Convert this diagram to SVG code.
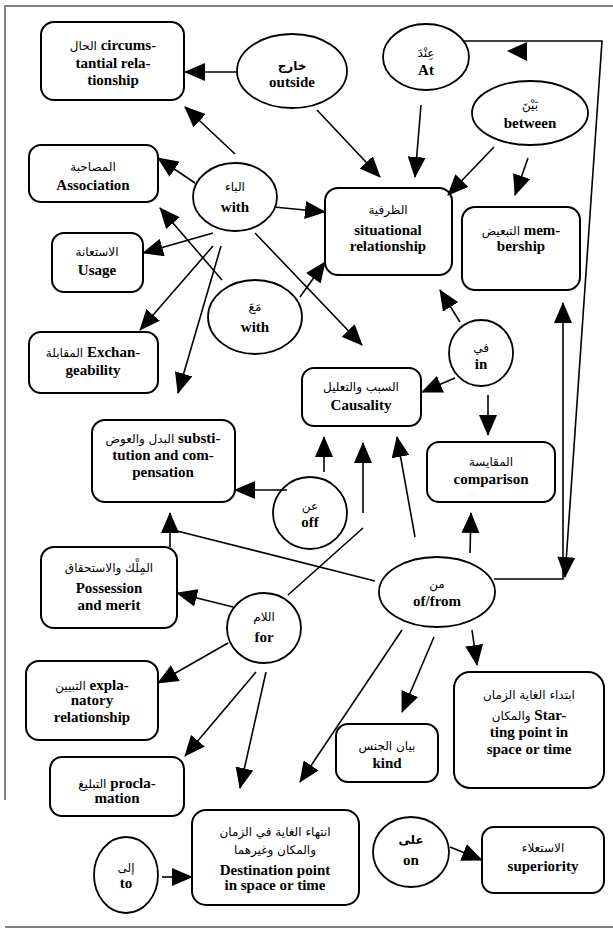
<svg xmlns="http://www.w3.org/2000/svg" width="613" height="929" viewBox="0 0 613 929">
<style>
.box{fill:#fff;stroke:#000;stroke-width:2}
.ell{fill:#fff;stroke:#000;stroke-width:1.8}
.frame{stroke:#808080;stroke-width:2;fill:none}
.c{stroke:#000;stroke-width:1.6;fill:none}
.a{marker-end:url(#ah)}
text{font-family:"Liberation Serif","DejaVu Sans",serif;font-weight:bold;font-size:15px;text-anchor:middle;fill:#000}
.ar{font-family:"DejaVu Sans","Noto Sans",sans-serif;font-weight:normal;font-size:12px}
.arb{font-family:"DejaVu Sans","Noto Sans",sans-serif;font-weight:bold;font-size:12px}
</style>
<defs>
<marker id="ah" markerUnits="userSpaceOnUse" markerWidth="21" markerHeight="18" refX="20" refY="9" orient="auto" viewBox="0 0 21 18">
<path d="M0,0 L21,9 L0,18 z" fill="#000"/>
</marker>
</defs>
<rect width="613" height="929" fill="#fff"/>
<g id="frame">
<path class="frame" d="M5,800 L5,6 L613,6"/>
<path class="frame" d="M5,927 L613,927"/>
</g>
<g id="n-circumstantial"><rect class="box" x="41" y="22" width="143" height="78" rx="13"/>
<text x="113" y="50"><tspan class="ar">الحال</tspan> circums-</text><text x="113" y="68">tantial rela-</text><text x="113" y="85">tionship</text></g>
<g id="n-outside"><ellipse class="ell" cx="292" cy="71" rx="55" ry="37"/>
<text x="292" y="70" class="arb">خارج</text><text x="292" y="87">outside</text></g>
<g id="n-at"><ellipse class="ell" cx="426" cy="57" rx="43" ry="33"/>
<text x="426" y="57" class="ar">عِنْدَ</text><text x="426" y="75">At</text></g>
<g id="n-between"><ellipse class="ell" cx="530" cy="113" rx="58" ry="32"/>
<text x="530" y="109" class="ar">بَيْنَ</text><text x="530" y="128">between</text></g>
<g id="n-situational"><rect class="box" x="325" y="188" width="127" height="87" rx="13"/>
<text x="388" y="214" class="ar">الظرفية</text><text x="388" y="235">situational</text><text x="388" y="251">relationship</text></g>
<g id="n-membership"><rect class="box" x="462" y="207" width="118" height="83" rx="13"/>
<text x="521" y="235"><tspan class="ar">التبعيض</tspan>  mem-</text><text x="521" y="251">bership</text></g>
<g id="n-with-ba"><ellipse class="ell" cx="235" cy="197" rx="42" ry="34"/>
<text x="235" y="191" class="ar">الباء</text><text x="235" y="212">with</text></g>
<g id="n-association"><rect class="box" x="29" y="145" width="129" height="57" rx="12"/>
<text x="93" y="171" class="ar">المصاحبة</text><text x="93" y="190">Association</text></g>
<g id="n-usage"><rect class="box" x="52" y="233" width="91" height="59" rx="12"/>
<text x="97" y="256" class="ar">الاستعانة</text><text x="97" y="275">Usage</text></g>
<g id="n-with-maa"><ellipse class="ell" cx="255" cy="317" rx="47" ry="37"/>
<text x="255" y="311" class="ar">مَعَ</text><text x="255" y="332">with</text></g>
<g id="n-exchangeability"><rect class="box" x="29" y="332" width="129" height="61" rx="12"/>
<text x="93" y="357"><tspan class="ar">المقابلة</tspan> Exchan-</text><text x="93" y="375">geability</text></g>
<g id="n-in"><ellipse class="ell" cx="481" cy="353" rx="32" ry="33"/>
<text x="481" y="352" class="ar">في</text><text x="481" y="369">in</text></g>
<g id="n-causality"><rect class="box" x="302" y="368" width="119" height="58" rx="12"/>
<text x="361" y="391" class="ar">السبب والتعليل</text><text x="361" y="410">Causality</text></g>
<g id="n-comparison"><rect class="box" x="427" y="442" width="128" height="60" rx="12"/>
<text x="491" y="466" class="ar">المقايسة</text><text x="491" y="484">comparison</text></g>
<g id="n-substitution"><rect class="box" x="92" y="420" width="143" height="82" rx="13"/>
<text x="163" y="443"><tspan class="ar">البدل  والعوض</tspan> substi-</text><text x="163" y="460">tution and com-</text><text x="163" y="477">pensation</text></g>
<g id="n-off"><ellipse class="ell" cx="310" cy="513" rx="37" ry="36"/>
<text x="310" y="510" class="ar">عن</text><text x="310" y="527">off</text></g>
<g id="n-possession"><rect class="box" x="41" y="547" width="136" height="81" rx="13"/>
<text x="109" y="572" class="ar">المِلْك والاستحقاق</text><text x="109" y="593">Possession</text><text x="109" y="610">and merit</text></g>
<g id="n-for"><ellipse class="ell" cx="264" cy="628" rx="37" ry="35"/>
<text x="264" y="621" class="ar">اللام</text><text x="264" y="642">for</text></g>
<g id="n-offrom"><ellipse class="ell" cx="437" cy="592" rx="58" ry="35"/>
<text x="437" y="588" class="ar">من</text><text x="437" y="606">of/from</text></g>
<g id="n-explanatory"><rect class="box" x="26" y="661" width="132" height="79" rx="13"/>
<text x="92" y="690"><tspan class="ar">التبيين</tspan> expla-</text><text x="92" y="705">natory</text><text x="92" y="722">relationship</text></g>
<g id="n-proclamation"><rect class="box" x="50" y="757" width="134" height="59" rx="12"/>
<text x="117" y="788"><tspan class="ar">التبليغ</tspan> procla-</text><text x="117" y="803">mation</text></g>
<g id="n-kind"><rect class="box" x="336" y="724" width="102" height="58" rx="12"/>
<text x="387" y="750" class="ar">بيان الجنس</text><text x="387" y="768">kind</text></g>
<g id="n-starting"><rect class="box" x="454" y="672" width="150" height="116" rx="16"/>
<text x="529" y="699" class="ar">ابتداء  الغاية الزمان</text><text x="529" y="720"><tspan class="ar">والمكان</tspan>   Star-</text><text x="529" y="737">ting point in</text><text x="529" y="754">space or time</text></g>
<g id="n-to"><ellipse class="ell" cx="126" cy="875" rx="32" ry="38"/>
<text x="126" y="872" class="ar">إلى</text><text x="126" y="888">to</text></g>
<g id="n-destination"><rect class="box" x="192" y="810" width="167" height="95" rx="14"/>
<text x="275" y="836" class="ar">انتهاء الغاية في الزمان</text><text x="275" y="854" class="ar">والمكان وغيرهما</text><text x="275" y="875">Destination point</text><text x="275" y="890">in space or time</text></g>
<g id="n-on"><ellipse class="ell" cx="411" cy="852" rx="38" ry="35"/>
<text x="411" y="844" class="arb">على</text><text x="411" y="865">on</text></g>
<g id="n-superiority"><rect class="box" x="482" y="827" width="122" height="66" rx="12"/>
<text x="543" y="852" class="ar">الاستعلاء</text><text x="543" y="871">superiority</text></g>
<g id="connectors">
<path class="c a" d="M237,72 L185,72"/>
<path class="c a" d="M235,154 L185,107"/>
<path class="c a" d="M317,110 L380,177"/>
<path class="c a" d="M421,105 L415,177"/>
<path class="c a" d="M494,147 L448,195"/>
<path class="c a" d="M528,158 L515,195"/>
<path class="c a" d="M195,183 L158,158"/>
<path class="c a" d="M274,207 L325,212"/>
<path class="c a" d="M213,233 L143,253"/>
<path class="c a" d="M213,246 L140,330"/>
<path class="c a" d="M221,246 L178,393"/>
<path class="c a" d="M222,280 L160,208"/>
<path class="c a" d="M300,297 L325,262"/>
<path class="c a" d="M255,233 L362,345"/>
<path class="c a" d="M460,322 L440,290"/>
<path class="c a" d="M455,378 L422,392"/>
<path class="c a" d="M488,395 L488,435"/>
<path class="c a" d="M287,490 L235,490"/>
<path class="c a" d="M324,472 L324,437"/>
<path class="c a" d="M415,537 L397,437"/>
<path class="c a" d="M470,553 L471,513"/>
<path class="c" d="M375,581 L177,531"/>
<path class="c a" d="M170,547 L170,513"/>
<path class="c a" d="M233,607 L177,593"/>
<path class="c" d="M288,595 L363,528"/>
<path class="c a" d="M363,513 L363,443"/>
<path class="c a" d="M228,643 L158,683"/>
<path class="c a" d="M256,672 L185,756"/>
<path class="c a" d="M266,672 L240,788"/>
<path class="c a" d="M402,630 L300,782"/>
<path class="c a" d="M434,637 L402,712"/>
<path class="c a" d="M472,630 L477,665"/>
<path class="c a" d="M162,877 L192,877"/>
<path class="c a" d="M450,847 L482,860"/>
<path class="c a" d="M463,41 L602,41 L565,577"/>
<path d="M507,51 L527,42 L527,61 z" fill="#000"/>
<path class="c a" d="M494,579 L563,579 L563,303"/>
</g>
</svg>
